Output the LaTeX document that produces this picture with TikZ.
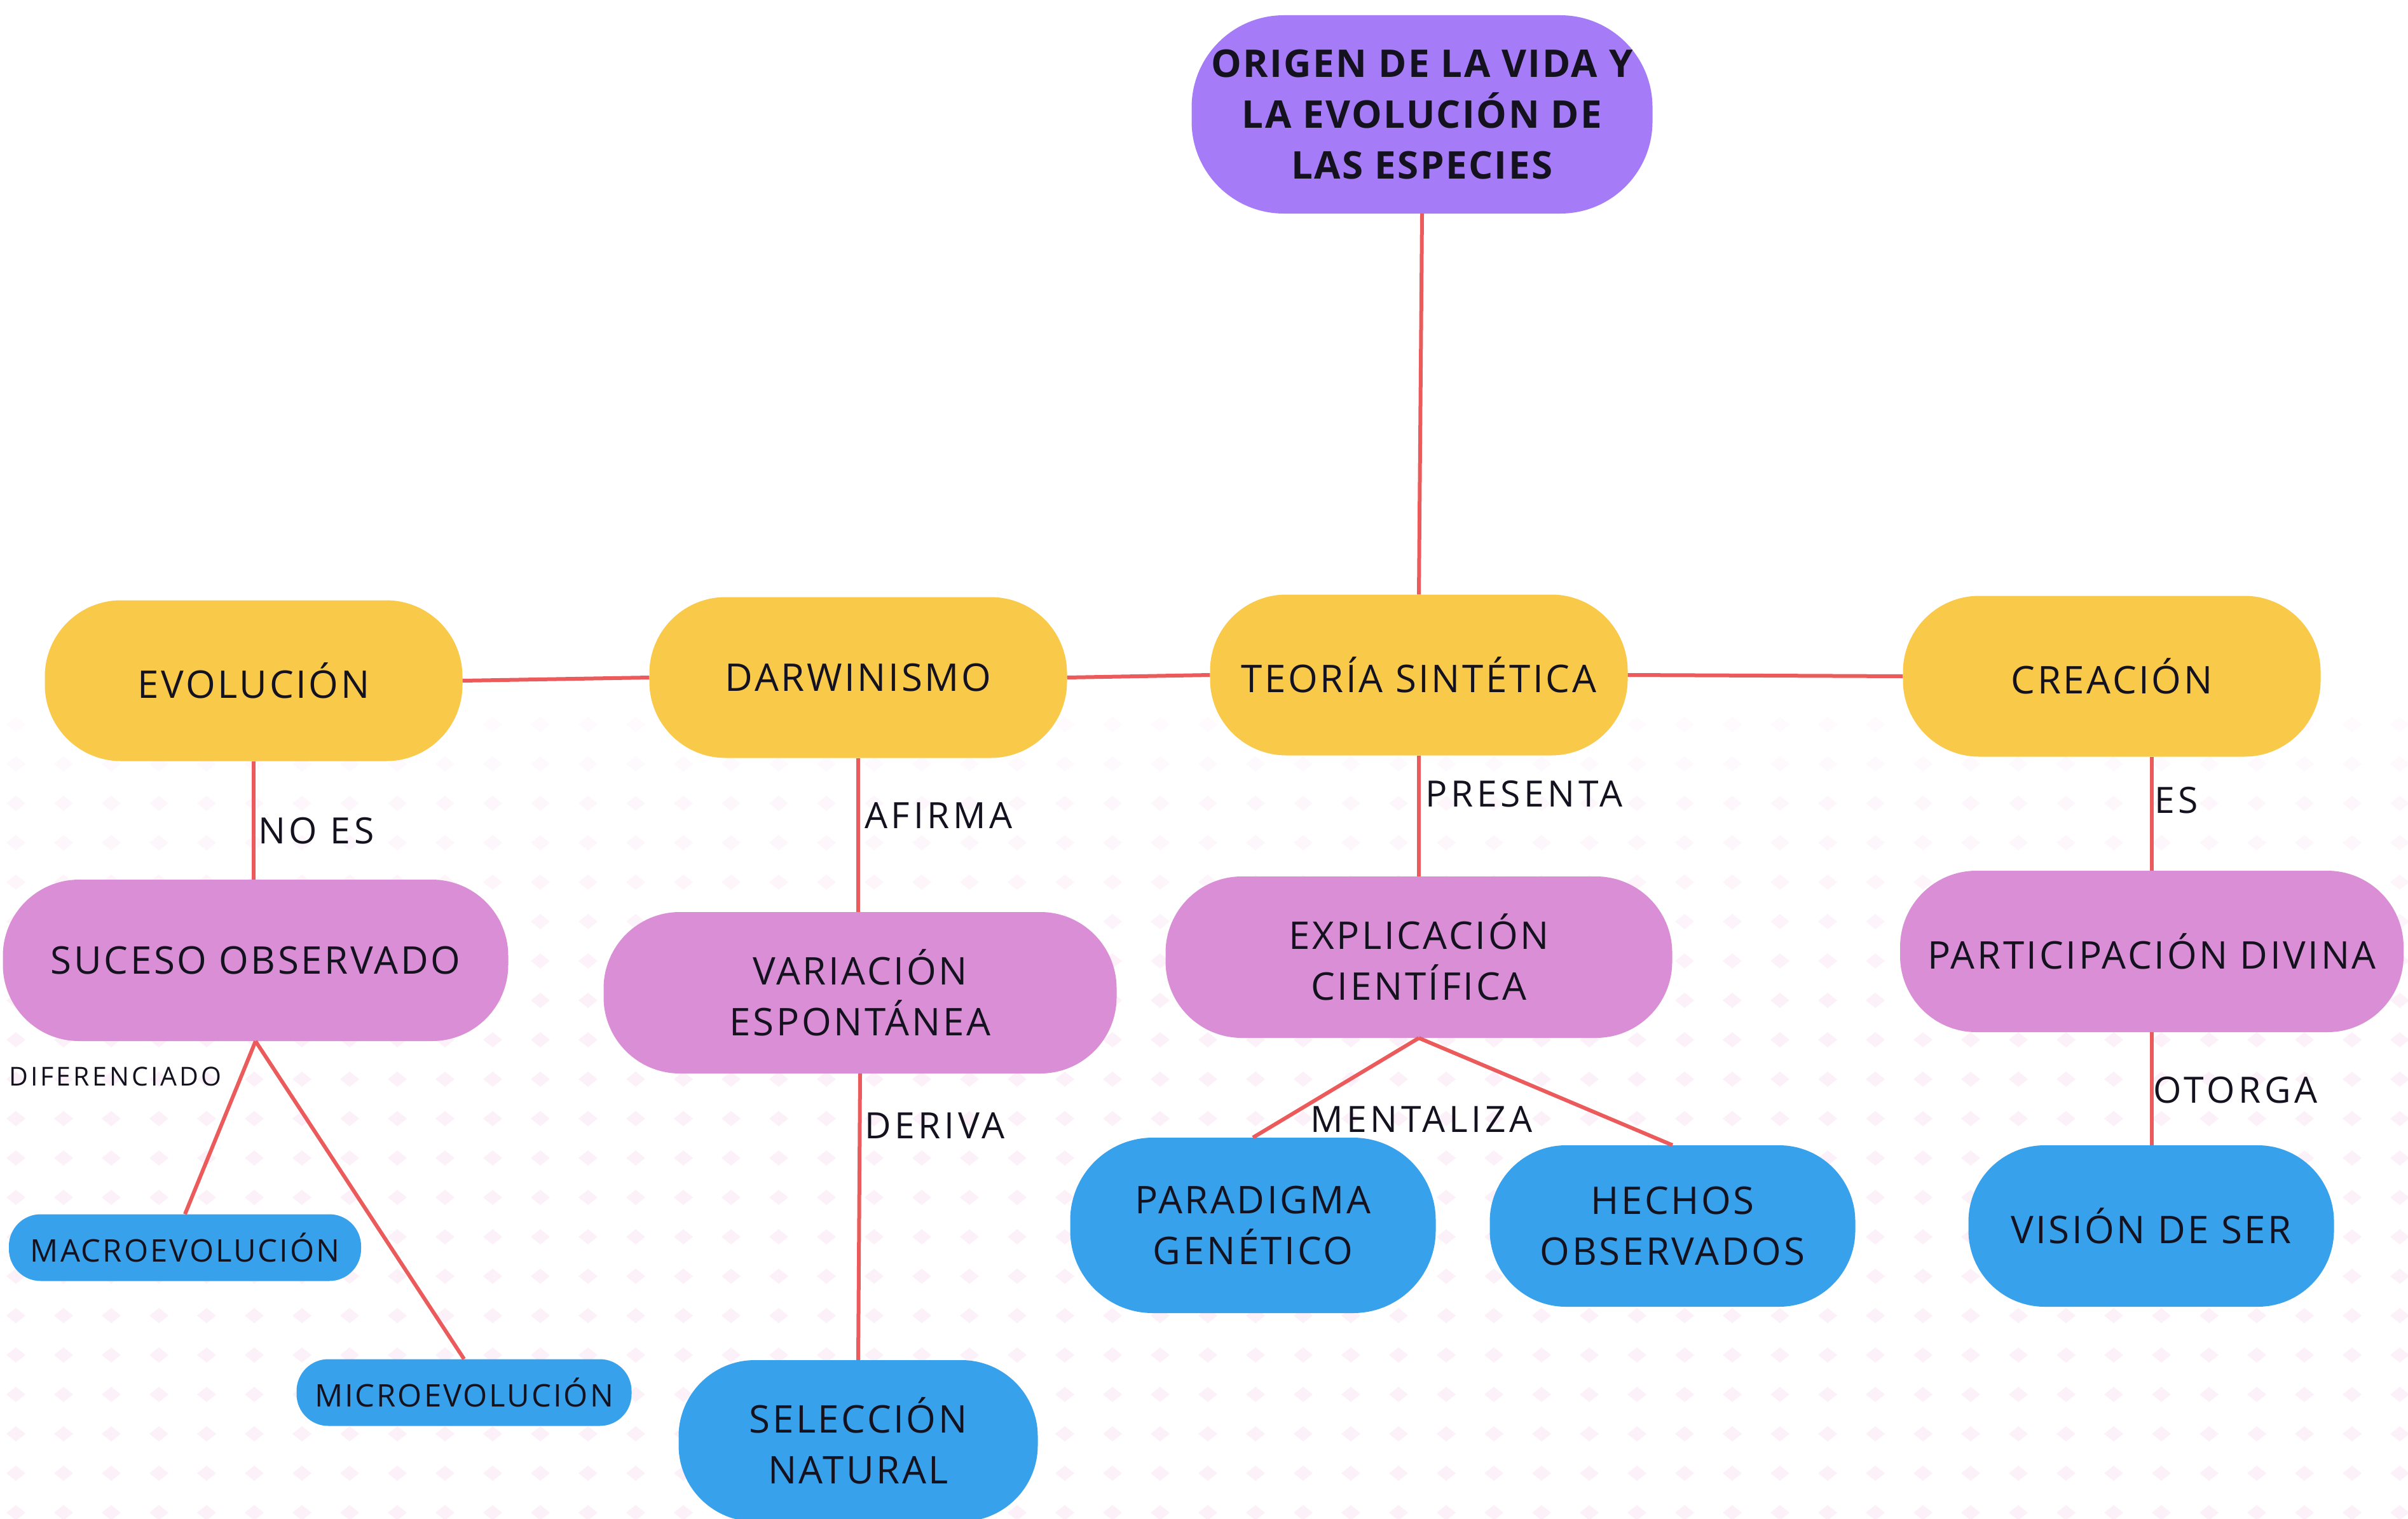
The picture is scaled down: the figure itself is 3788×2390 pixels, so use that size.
\documentclass[tikz,border=0pt]{standalone}
\usepackage{fontspec}
\setmainfont{Open Sans}
\newfontfamily\boxfont[LetterSpace=6]{Open Sans}
\newfontfamily\labfont[LetterSpace=10]{Open Sans}
\definecolor{cpurple}{HTML}{A67BF8}
\definecolor{cyellow}{HTML}{F9C94A}
\definecolor{cpink}{HTML}{D98ED5}
\definecolor{cblue}{HTML}{38A1EB}
\definecolor{cline}{HTML}{EC5B5B}
\definecolor{ctext}{HTML}{14121F}
\definecolor{cpat}{HTML}{FDF1F9}
\tikzset{
  pill/.style={draw=none, align=center, text=ctext, inner sep=0pt,
    font=\boxfont\fontsize{60}{80}\selectfont},
  yel/.style={pill, fill=cyellow, minimum width=657pt, minimum height=253pt, rounded corners=120pt},
  pnk/.style={pill, fill=cpink, minimum height=254pt, rounded corners=120pt},
  blu/.style={pill, fill=cblue, minimum height=254pt, rounded corners=120pt},
  smallblu/.style={pill, fill=cblue, minimum height=105pt, rounded corners=50pt,
    font=\boxfont\fontsize{49}{55}\selectfont},
  conn/.style={draw=cline, line width=6pt},
  lab/.style={anchor=west, inner sep=0pt, text=ctext, font=\labfont\fontsize{57}{64}\selectfont}
}
\begin{document}
\begin{tikzpicture}[x=1pt,y=-1pt]
\useasboundingbox (0,0) rectangle (3788,2390);
\fill[white] (0,0) rectangle (3788,2390);
% background diamond pattern
\foreach \j in {0,...,20}{
  \pgfmathsetmacro{\yy}{1140+62*\j}
  \pgfmathsetmacro{\op}{min(1,0.3+0.1*\j)}
  \foreach \i in {0,...,50}{
    \pgfmathsetmacro{\xx}{25+75*\i}
    \fill[cpat, opacity=\op] (\xx,\yy-12) -- (\xx+15,\yy) -- (\xx,\yy+12) -- (\xx-15,\yy) -- cycle;
  }
}
% nodes
\node[pill, fill=cpurple, minimum width=725pt, minimum height=312pt, rounded corners=145pt,
  font=\fontsize{60}{80}\selectfont\bfseries\addfontfeatures{LetterSpace=4}] (origen) at (2237,180)
  {ORIGEN DE LA VIDA Y\\LA EVOLUCIÓN DE\\LAS ESPECIES};
\node[yel] (evol) at (399,1071) {EVOLUCIÓN};
\node[yel] (darw) at (1350,1066) {DARWINISMO};
\node[yel] (teoria) at (2232,1062) {TEORÍA SINTÉTICA};
\node[yel] (crea) at (3322,1064) {CREACIÓN};
\node[pnk, minimum width=795pt] (suceso) at (402,1511) {SUCESO OBSERVADO};
\node[pnk, minimum width=807pt] (variac) at (1353,1562) {VARIACIÓN\\ESPONTÁNEA};
\node[pnk, minimum width=797pt] (explic) at (2232,1506) {EXPLICACIÓN\\CIENTÍFICA};
\node[pnk, minimum width=792pt] (partic) at (3385,1497) {PARTICIPACIÓN DIVINA};
\node[smallblu, minimum width=554pt] (macro) at (291,1963) {MACROEVOLUCIÓN};
\node[smallblu, minimum width=527pt] (micro) at (730,2191) {MICROEVOLUCIÓN};
\node[blu, minimum width=565pt] (selec) at (1350,2267) {SELECCIÓN\\NATURAL};
\node[blu, minimum width=575pt, minimum height=276pt, rounded corners=130pt] (parad) at (1971,1928) {PARADIGMA\\GENÉTICO};
\node[blu, minimum width=575pt] (hechos) at (2631,1929) {HECHOS\\OBSERVADOS};
\node[blu, minimum width=575pt] (vision) at (3384,1929) {VISIÓN DE SER};
% connectors
\draw[conn] (origen.south) -- (teoria.north);
\draw[conn] (evol.east) -- (darw.west);
\draw[conn] (darw.east) -- (teoria.west);
\draw[conn] (teoria.east) -- (crea.west);
\draw[conn] (evol.south) -- (evol.south |- suceso.north);
\draw[conn] (darw.south) -- (darw.south |- variac.north);
\draw[conn] (teoria.south) -- (teoria.south |- explic.north);
\draw[conn] (partic.north |- crea.south) -- (partic.north);
\draw[conn] (suceso.south) -- (macro.north);
\draw[conn] (suceso.south) -- (micro.north);
\draw[conn] (variac.south) -- (selec.north);
\draw[conn] (explic.south) -- (parad.north);
\draw[conn] (explic.south) -- (hechos.north);
\draw[conn] (partic.south) -- (partic.south |- vision.north);
% labels
\node[lab] (lnoes) at (406,1307) {NO ES};
\node[lab] (lafirma) at (1360,1283) {AFIRMA};
\node[lab] (lpresenta) at (2242,1249) {PRESENTA};
\node[lab] (les) at (3389,1259) {ES};
\node[lab, font=\labfont\fontsize{41}{46}\selectfont] (ldif) at (14,1694) {DIFERENCIADO};
\node[lab] (lderiva) at (1360,1771) {DERIVA};
\node[lab] (lment) at (2061,1761) {MENTALIZA};
\node[lab] (lotorga) at (3387,1715) {OTORGA};
\end{tikzpicture}
\end{document}
